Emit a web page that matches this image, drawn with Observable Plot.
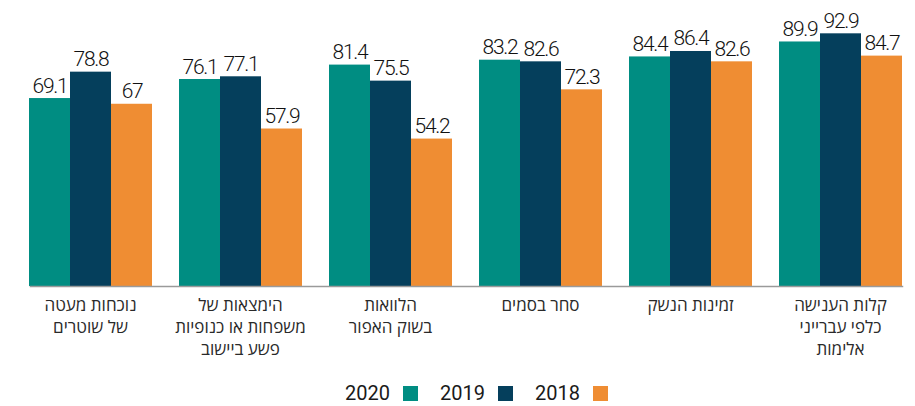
<!DOCTYPE html>
<html lang="he">
<head>
<meta charset="utf-8">
<script src="https://cdn.jsdelivr.net/npm/d3@7"></script>
<script src="https://cdn.jsdelivr.net/npm/@observablehq/plot@0.6"></script>
<style>
  html, body { margin: 0; padding: 0; background: #fff; }
  #chart { width: 915px; }
  #chart g[aria-label="text"] text { letter-spacing: -1.3px; }
  .legend { display: flex; direction: rtl; justify-content: center; align-items: center; height: 26px; padding-left: 38px;
            font-family: Roboto, "DejaVu Sans", sans-serif; font-size: 20px; font-weight: 400; color: #1a1a1a; }
  .legend .item { display: flex; align-items: center; margin-left: 22px; }
  .legend .item:last-child { margin-left: 0; }
  .legend .sw { width: 15px; height: 15px; margin-left: 13px; }
</style>
</head>
<body>
<div id="chart"></div>
<script>
const categories = [
  "נוכחות מעטה\nשל שוטרים",
  "הימצאות של\nמשפחות או כנופיות\nפשע ביישוב",
  "הלוואות\nבשוק האפור",
  "סחר בסמים",
  "זמינות הנשק",
  "קלות הענישה\nכלפי עברייני\nאלימות"
];
const years = ["2020", "2019", "2018"];
const values2020 = [69.1, 76.1, 81.4, 83.2, 84.4, 89.9];
const values2019 = [78.8, 77.1, 75.5, 82.6, 86.4, 92.9];
const values2018 = [67, 57.9, 54.2, 72.3, 82.6, 84.7];
const colors = ["#008d82", "#053f5c", "#ef8d33"];

const series = [values2020, values2019, values2018];
const data = [];
categories.forEach((c, i) => {
  years.forEach((y, j) => data.push({cat: c, year: y, value: series[j][i]}));
});

const plot = Plot.plot({
  width: 915,
  height: 380,
  marginTop: 14,
  marginBottom: 94,
  marginLeft: 6,
  marginRight: 0,
  fx: {domain: categories, paddingInner: 0.1755, paddingOuter: 0.103, align: 0.62, label: null},
  x: {domain: years, padding: 0, axis: null},
  y: {domain: [0, 100], axis: null},
  color: {domain: years, range: colors},
  style: {fontFamily: "Roboto, 'DejaVu Sans', sans-serif", background: "#fff", fontWeight: 400},
  marks: [
    Plot.barY(data, {fx: "cat", x: "year", y: "value", fill: "year", inset: 0}),
    Plot.text(data, {fx: "cat", x: "year", y: "value", text: d => String(d.value), lineAnchor: "bottom", dy: -6,
      fontSize: 21, fontWeight: 300, fill: "#111", fontFamily: "Roboto, sans-serif"}),
    Plot.frame({anchor: "bottom", facet: "super", stroke: "#9a9a9a", strokeWidth: 1.5, insetLeft: 2}),
    Plot.axisFx({anchor: "bottom", tickSize: 0, tickPadding: 9, fontSize: 17, lineHeight: 1.3, fill: "#2a2a2a", label: null,
      fontFamily: "'Open Sans', 'DejaVu Sans', sans-serif", style: "letter-spacing:0"})
  ]
});
document.getElementById("chart").appendChild(plot);
plot.querySelectorAll('g[aria-label="fx-axis tick label"] text').forEach(t => t.style.letterSpacing = "0px");

const legend = document.createElement("div");
legend.className = "legend";
const legendOrder = ["2018", "2019", "2020"];
legendOrder.forEach(y => {
  const item = document.createElement("div");
  item.className = "item";
  const sw = document.createElement("span");
  sw.className = "sw";
  sw.style.background = colors[years.indexOf(y)];
  const t = document.createElement("span");
  t.textContent = y;
  item.appendChild(sw);
  item.appendChild(t);
  legend.appendChild(item);
});
document.getElementById("chart").appendChild(legend);
</script>
</body>
</html>
